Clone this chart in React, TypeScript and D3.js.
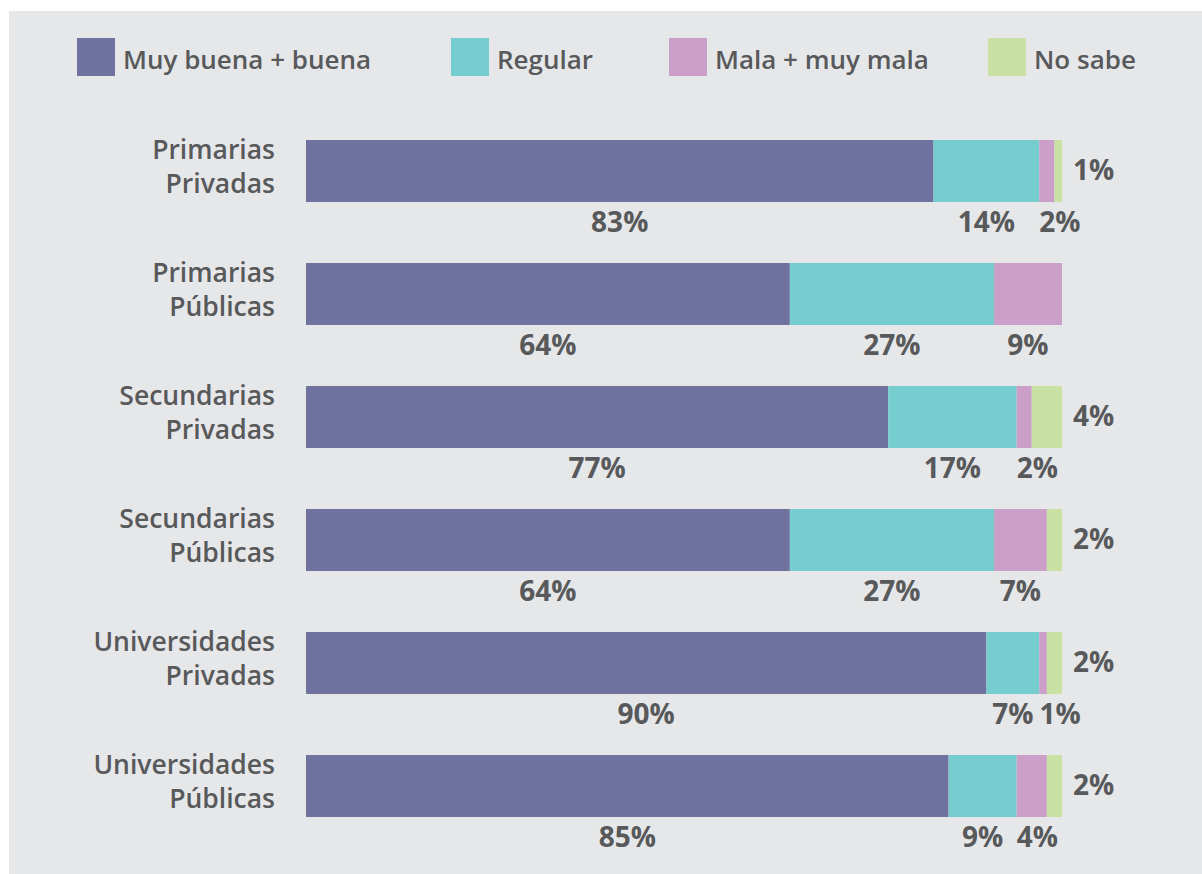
import React, { useEffect, useRef } from "react";
import * as d3 from "d3";

const categories = [
  ["Primarias", "Privadas"],
  ["Primarias", "Públicas"],
  ["Secundarias", "Privadas"],
  ["Secundarias", "Públicas"],
  ["Universidades", "Privadas"],
  ["Universidades", "Públicas"],
];
const seriesNames = ["Muy buena + buena", "Regular", "Mala + muy mala", "No sabe"];
const seriesColors = ["#6f719e", "#76cdd0", "#cc9fc9", "#c9e1a2"];
const muyBuena = [83, 64, 77, 64, 90, 85];
const regular = [14, 27, 17, 27, 7, 9];
const mala = [2, 9, 2, 7, 1, 4];
const noSabe = [1, 0, 4, 2, 2, 2];

const W = 1202;
const H = 874;
const TEXT = "#58595b";
const FONT = "'Open Sans', 'Noto Sans', sans-serif";

export default function App() {
  const ref = useRef<SVGSVGElement>(null);

  useEffect(() => {
    document.body.style.margin = "0";
    const svg = d3.select(ref.current);
    svg.selectAll("*").remove();

    svg.append("rect").attr("x", 9).attr("y", 11).attr("width", W - 9).attr("height", H - 11).attr("fill", "#e6e7e9");

    const keys = categories.map((c) => c.join(" "));
    const rows = keys.map((k, i) => ({
      key: k,
      vals: [muyBuena[i], regular[i], mala[i], noSabe[i]],
    }));

    const x = d3.scaleLinear().domain([0, 100]).range([306, 1062]);
    const y = d3.scaleBand<string>().domain(keys).range([140, 817]).paddingInner(61 / 123).paddingOuter(0);

    // Legend
    const legendX = [77, 451, 669, 988];
    const lg = svg.append("g");
    seriesNames.forEach((name, i) => {
      lg.append("rect").attr("x", legendX[i]).attr("y", 38).attr("width", 38).attr("height", 38).attr("fill", seriesColors[i]);
      lg.append("text")
        .attr("x", legendX[i] + 46)
        .attr("y", 69)
        .attr("font-family", FONT)
        .attr("font-size", 26)
        .attr("font-weight", 600)
        .attr("fill", TEXT)
        .text(name);
    });

    // Category labels
    rows.forEach((r, i) => {
      const cy = (y(r.key) as number) + y.bandwidth() / 2;
      const t = svg.append("text")
        .attr("text-anchor", "end")
        .attr("font-family", FONT)
        .attr("font-size", 26.5)
        .attr("font-weight", 600)
        .attr("fill", TEXT);
      t.append("tspan").attr("x", 275).attr("y", cy - 12).text(categories[i][0]);
      t.append("tspan").attr("x", 275).attr("y", cy + 22).text(categories[i][1]);
    });

    // Bars
    const stack = d3.stack<any>().keys([0, 1, 2, 3] as any).value((d: any, k: any) => d.vals[k]);
    const stacked = stack(rows as any);
    stacked.forEach((layer, si) => {
      svg.append("g")
        .selectAll("rect")
        .data(layer)
        .join("rect")
        .attr("x", (d) => x(d[0]))
        .attr("y", (d: any) => y(d.data.key) as number)
        .attr("width", (d) => Math.max(0, x(d[1]) - x(d[0])))
        .attr("height", y.bandwidth())
        .attr("fill", seriesColors[si]);
    });

    // Value labels
    rows.forEach((r, ri) => {
      const top = y(r.key) as number;
      const bottom = top + y.bandwidth();
      let prevEnd = -Infinity;
      for (let si = 0; si < 3; si++) {
        const v = r.vals[si];
        if (!v) continue;
        const seg = stacked[si][ri];
        const x0 = x(seg[0]);
        const x1 = x(seg[1]);
        const t = svg.append("text")
          .attr("y", bottom + 30)
          .attr("font-family", FONT)
          .attr("font-size", 28)
          .attr("font-weight", 700)
          .attr("fill", TEXT)
          .text(v + "%");
        const w = (t.node() as SVGTextElement).getComputedTextLength();
        let left = w > x1 - x0 ? x0 : (x0 + x1) / 2 - w / 2;
        if (left < prevEnd + 6) left = prevEnd + 6;
        t.attr("x", left);
        prevEnd = left + w;
      }
      const last = r.vals[3];
      if (last) {
        svg.append("text")
          .attr("x", x(100) + 11)
          .attr("y", top + y.bandwidth() / 2 + 9)
          .attr("font-family", FONT)
          .attr("font-size", 28)
          .attr("font-weight", 700)
          .attr("fill", TEXT)
          .text(last + "%");
      }
    });
  }, []);

  return <svg ref={ref} width={W} height={H} style={{ display: "block" }} />;
}
